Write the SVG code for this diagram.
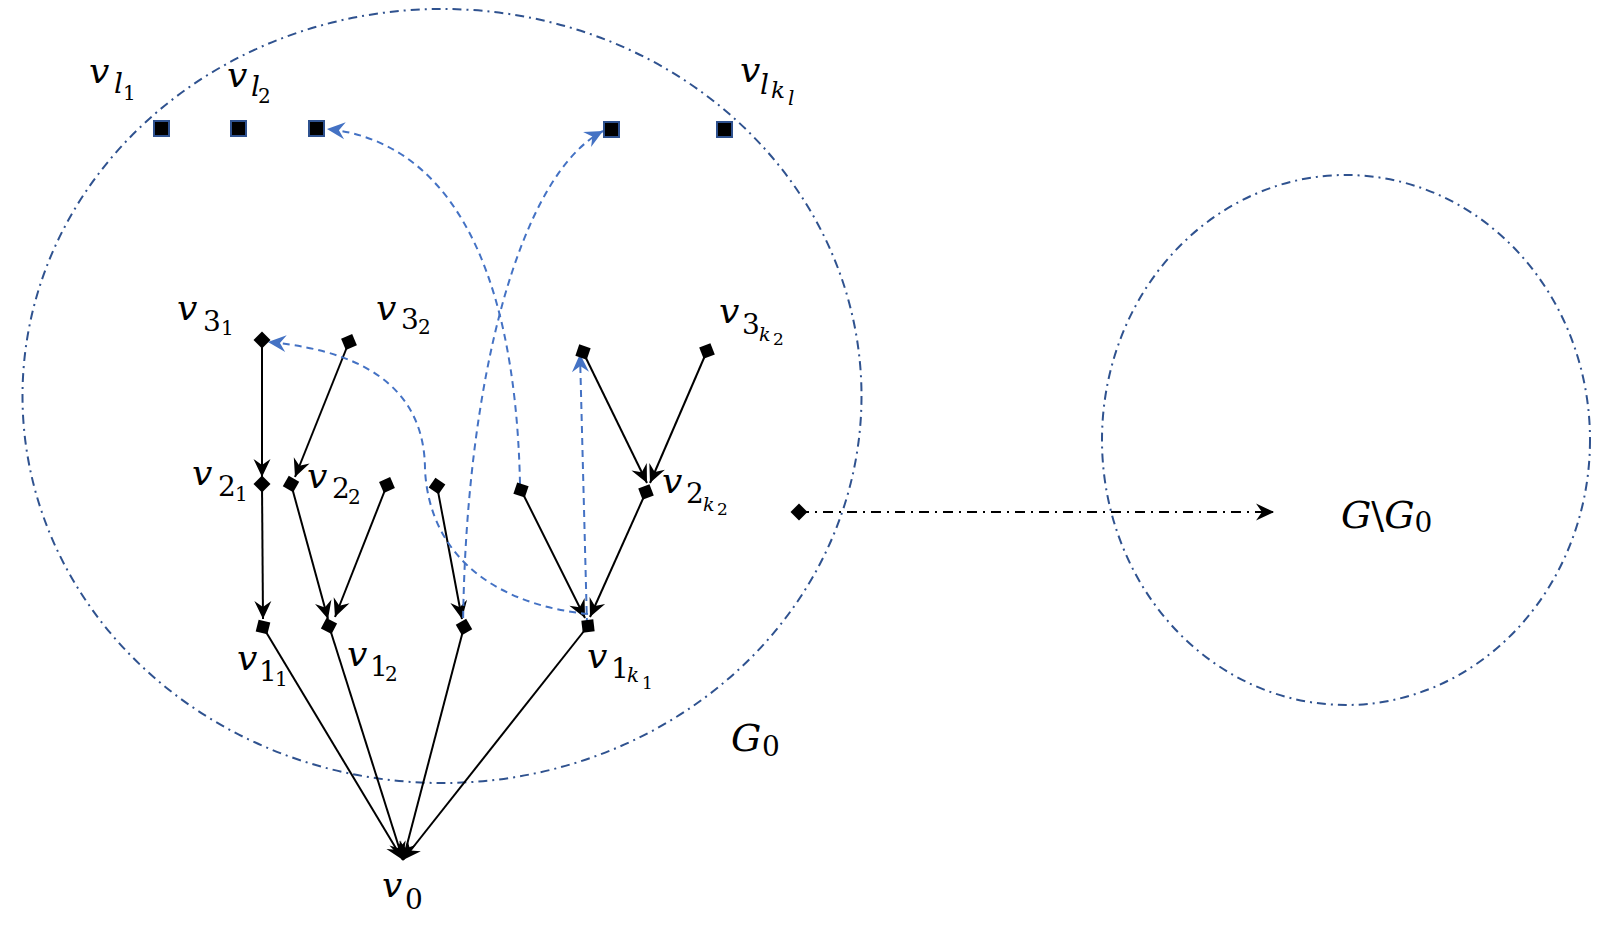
<svg xmlns="http://www.w3.org/2000/svg" width="1608" height="928" viewBox="0 0 1608 928">
<style>
.ring{fill:none;stroke:#2F528F;stroke-width:2;stroke-dasharray:9 5 2 5}
.e{fill:none;stroke:#000;stroke-width:2;marker-end:url(#ah)}
.b{fill:none;stroke:#4472C4;stroke-width:2;stroke-dasharray:7 5;marker-end:url(#ahb)}
.g{fill:none;stroke:#000;stroke-width:2;stroke-dasharray:10 6 2 6;marker-end:url(#ah)}
.sq{fill:#000;stroke:#2F528F;stroke-width:2}
.dm{fill:#000}
text{font-family:"DejaVu Serif","Liberation Serif",serif;fill:#000}
.m{font-size:36px;font-style:italic}
.s{font-size:28px}
.ss{font-size:20px}
.i{font-style:italic}
.G{font-size:38px;font-style:italic}
</style>
<defs>
<marker id="ah" viewBox="-19 -10 20 20" refX="0" refY="0" markerWidth="20" markerHeight="20" markerUnits="userSpaceOnUse" orient="auto"><path d="M0,0 L-18,-8.5 L-12,0 L-18,8.5 Z" fill="#000"/></marker>
<marker id="ahb" viewBox="-19 -10 20 20" refX="0" refY="0" markerWidth="20" markerHeight="20" markerUnits="userSpaceOnUse" orient="auto"><path d="M0,0 L-18,-8.5 L-12,0 L-18,8.5 Z" fill="#4472C4"/></marker>
<polygon id="dia" points="-8.5,0 0,-8.5 8.5,0 0,8.5"/>
</defs>
<rect width="1608" height="928" fill="#fff"/>
<g id="G0">
<ellipse class="ring" cx="442" cy="396" rx="419.5" ry="387"/>
<text><tspan class="G" x="731" y="751">G</tspan><tspan class="s" x="762" y="756">0</tspan></text>
</g>
<g id="GminusG0">
<ellipse class="ring" cx="1346" cy="440" rx="244" ry="265"/>
<text><tspan class="G" x="1341" y="528">G</tspan><tspan style="font-size:38px">\</tspan><tspan class="G">G</tspan><tspan class="s" dy="4">0</tspan></text>
</g>
<g id="connectors">
<line class="e" x1="262" y1="340" x2="262" y2="477"/>
<line class="e" x1="349" y1="342" x2="295" y2="477"/>
<line class="e" x1="262" y1="484" x2="263" y2="619"/>
<line class="e" x1="291" y1="484" x2="328" y2="619"/>
<line class="e" x1="387" y1="485" x2="335" y2="617"/>
<line class="e" x1="437" y1="486" x2="462" y2="619"/>
<line class="e" x1="521" y1="490" x2="585" y2="618"/>
<line class="e" x1="646" y1="492" x2="590" y2="617"/>
<line class="e" x1="583" y1="352" x2="647" y2="483"/>
<line class="e" x1="707" y1="351" x2="650" y2="483"/>
<line class="e" x1="263" y1="627" x2="403" y2="860"/>
<line class="e" x1="329" y1="626" x2="403" y2="860"/>
<line class="e" x1="464" y1="627" x2="403" y2="860"/>
<line class="e" x1="588" y1="626" x2="403" y2="860"/>
<line class="g" x1="799" y1="512" x2="1274" y2="512"/>
<path class="b" d="M520,484 C515,250 440,140 327,129"/>
<path class="b" d="M463,630 C465,380 520,175 603,131"/>
<path class="b" d="M588,614 C500,605 430,560 425,470 C425,400 380,352 268,342"/>
<path class="b" d="M587,625 L580,354"/>
</g>
<g id="v_l1"><rect class="sq" x="154" y="121" width="15" height="15"/><text><tspan class="m" x="89" y="83">v</tspan><tspan class="s i" x="114" y="93">l</tspan><tspan class="ss" x="123" y="100">1</tspan></text></g>
<g id="v_l2"><rect class="sq" x="231" y="121" width="15" height="15"/><text><tspan class="m" x="227" y="87">v</tspan><tspan class="s i" x="251" y="96">l</tspan><tspan class="ss" x="258" y="103">2</tspan></text></g>
<g id="v_l3"><rect class="sq" x="309" y="121" width="15" height="15"/></g>
<g id="v_l4"><rect class="sq" x="604" y="122" width="15" height="15"/></g>
<g id="v_lkl"><rect class="sq" x="717" y="122" width="15" height="15"/><text><tspan class="m" x="740" y="82">v</tspan><tspan class="s i" x="760" y="94">l</tspan><tspan class="i" x="771" y="98" style="font-size:23px">k</tspan><tspan class="i" x="788" y="105" style="font-size:20px">l</tspan></text></g>
<g id="v_31"><use href="#dia" class="dm" transform="translate(262,340)"/><text><tspan class="m" x="177" y="320">v</tspan><tspan class="s" x="203" y="331">3</tspan><tspan class="ss" x="221" y="335">1</tspan></text></g>
<g id="v_32"><use href="#dia" class="dm" transform="translate(349,342) rotate(21.8)"/><text><tspan class="m" x="376" y="320">v</tspan><tspan class="s" x="401" y="329">3</tspan><tspan class="ss" x="418" y="334">2</tspan></text></g>
<g id="v_3a"><use href="#dia" class="dm" transform="translate(583,352) rotate(64)"/></g>
<g id="v_3k2"><use href="#dia" class="dm" transform="translate(707,351) rotate(23.4)"/><text><tspan class="m" x="719" y="323">v</tspan><tspan class="s" x="742" y="334">3</tspan><tspan class="i" x="759" y="341" style="font-size:19px">k</tspan><tspan x="773" y="345" style="font-size:17px">2</tspan></text></g>
<g id="v_21"><use href="#dia" class="dm" transform="translate(262,484)"/><text><tspan class="m" x="192" y="485">v</tspan><tspan class="s" x="218" y="496">2</tspan><tspan class="ss" x="235" y="501">1</tspan></text></g>
<g id="v_22"><use href="#dia" class="dm" transform="translate(291,484) rotate(74.7)"/><text><tspan class="m" x="307" y="488">v</tspan><tspan class="s" x="332" y="498">2</tspan><tspan class="ss" x="348" y="504">2</tspan></text></g>
<g id="v_23"><use href="#dia" class="dm" transform="translate(387,485) rotate(21.5)"/></g>
<g id="v_24"><use href="#dia" class="dm" transform="translate(437,486) rotate(79.4)"/></g>
<g id="v_25"><use href="#dia" class="dm" transform="translate(521,490) rotate(63.4)"/></g>
<g id="v_2k2"><use href="#dia" class="dm" transform="translate(646,492) rotate(24.1)"/><text><tspan class="m" x="662" y="493">v</tspan><tspan class="s" x="686" y="503">2</tspan><tspan class="i" x="703" y="511" style="font-size:19px">k</tspan><tspan x="717" y="515" style="font-size:17px">2</tspan></text></g>
<g id="v_11"><use href="#dia" class="dm" transform="translate(263,627) rotate(59)"/><text><tspan class="m" x="237" y="670">v</tspan><tspan class="s" x="259" y="681">1</tspan><tspan class="ss" x="275" y="686">1</tspan></text></g>
<g id="v_12"><use href="#dia" class="dm" transform="translate(329,626) rotate(72.5)"/><text><tspan class="m" x="347" y="666">v</tspan><tspan class="s" x="370" y="676">1</tspan><tspan class="ss" x="385" y="681">2</tspan></text></g>
<g id="v_13"><use href="#dia" class="dm" transform="translate(464,627) rotate(14.7)"/></g>
<g id="v_1k1"><use href="#dia" class="dm" transform="translate(588,626) rotate(38.3)"/><text><tspan class="m" x="587" y="668">v</tspan><tspan class="s" x="611" y="678">1</tspan><tspan class="i" x="627" y="682" style="font-size:20px">k</tspan><tspan x="642" y="689" style="font-size:17px">1</tspan></text></g>
<g id="v_0"><text><tspan class="m" x="382" y="897">v</tspan><tspan class="s" x="405" y="909">0</tspan></text></g>
<g id="v_out"><use href="#dia" class="dm" transform="translate(799,512)"/></g>
</svg>
